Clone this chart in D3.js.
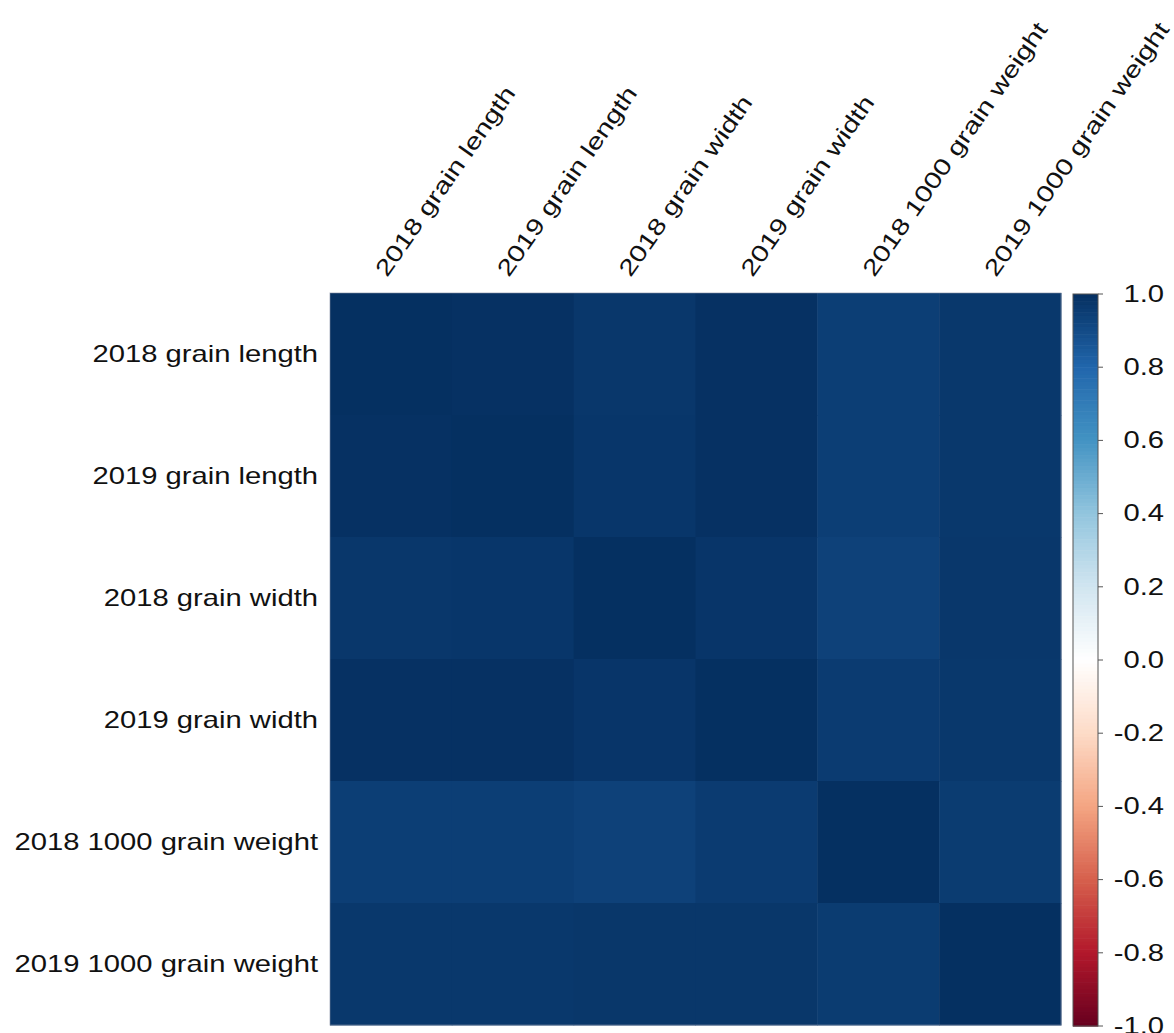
<!DOCTYPE html>
<html>
<head>
<meta charset="utf-8">
<script src="https://cdn.jsdelivr.net/npm/d3@7"></script>
<style>
  html, body { margin: 0; padding: 0; background: #fff; }
  svg text { font-family: "Liberation Sans", Arial, Helvetica, sans-serif; fill: #111; }
</style>
</head>
<body>
<svg id="chart" width="1174" height="1033"></svg>
<script>
// Traits compared in the correlation matrix
const traits = [
  "2018 grain length",
  "2019 grain length",
  "2018 grain width",
  "2019 grain width",
  "2018 1000 grain weight",
  "2019 1000 grain weight"
];

// Pairwise correlation coefficients (row by row)
const row2018Length = [1.00, 0.995, 0.973, 0.995, 0.947, 0.97];
const row2019Length = [0.995, 1.00, 0.976, 0.995, 0.947, 0.97];
const row2018Width  = [0.973, 0.976, 1.00, 0.98, 0.936, 0.973];
const row2019Width  = [0.995, 0.995, 0.98, 1.00, 0.958, 0.97];
const row2018Weight = [0.947, 0.947, 0.936, 0.958, 1.00, 0.957];
const row2019Weight = [0.97, 0.97, 0.975, 0.975, 0.957, 1.00];
const corr = [row2018Length, row2019Length, row2018Width, row2019Width, row2018Weight, row2019Weight];

// Colour bar ticks
const legendTicks = [1.0, 0.8, 0.6, 0.4, 0.2, 0.0, -0.2, -0.4, -0.6, -0.8, -1.0];

// Diverging red-white-blue palette
const paletteStops = ["#67001F", "#B2182B", "#D6604D", "#F4A582", "#FDDBC7", "#FFFFFF",
                      "#D1E5F0", "#92C5DE", "#4393C3", "#2166AC", "#053061"];

const svg = d3.select("#chart");
const gridLeft = 330, gridRight = 1061, gridTop = 293, gridBottom = 1025;
const widen = 1.27;      // wide lettering along the baseline
const fontSize = 23;
const colAngle = -55;

const x = d3.scaleBand().domain(traits).range([gridLeft, gridRight]).padding(0);
const y = d3.scaleBand().domain(traits).range([gridTop, gridBottom]).padding(0);

const color = d3.scaleLinear()
  .domain(d3.range(paletteStops.length).map(i => -1 + 2 * i / (paletteStops.length - 1)))
  .range(paletteStops)
  .interpolate(d3.interpolateRgb);

// Heatmap cells
const cells = [];
corr.forEach((row, i) => row.forEach((v, j) => cells.push({ r: traits[i], c: traits[j], v })));

svg.append("g").selectAll("rect")
  .data(cells)
  .join("rect")
  .attr("x", d => x(d.c))
  .attr("y", d => y(d.r))
  .attr("width", x.bandwidth() + 0.5)
  .attr("height", y.bandwidth() + 0.5)
  .attr("fill", d => color(d.v));

svg.append("rect")
  .attr("x", gridLeft).attr("y", gridTop)
  .attr("width", gridRight - gridLeft).attr("height", gridBottom - gridTop)
  .attr("fill", "none").attr("stroke", "#7f8ba0").attr("stroke-width", 1).attr("stroke-opacity", 0.6);

// Row labels
svg.append("g").selectAll("text")
  .data(traits)
  .join("text")
  .attr("transform", d => `translate(318,${y(d) + y.bandwidth() / 2}) scale(${widen},1)`)
  .attr("text-anchor", "end")
  .attr("dominant-baseline", "central")
  .attr("font-size", fontSize)
  .text(d => d);

// Column labels, rotated
svg.append("g").selectAll("text")
  .data(traits)
  .join("text")
  .attr("transform", d => `translate(${x(d) + x.bandwidth() / 2 - 4},278) rotate(${colAngle}) scale(${widen},1)`)
  .attr("text-anchor", "start")
  .attr("font-size", fontSize)
  .text(d => d);

// Colour bar
const barLeft = 1073, barWidth = 25, barTop = 294, barBottom = 1026;
const legendY = d3.scaleLinear().domain([1, -1]).range([barTop, barBottom]);
const steps = d3.range(200).map(i => 1 - (i + 0.5) * 2 / 200);
const stepH = (barBottom - barTop) / 200;

svg.append("g").selectAll("rect")
  .data(steps)
  .join("rect")
  .attr("x", barLeft)
  .attr("y", d => legendY(d) - stepH / 2)
  .attr("width", barWidth)
  .attr("height", stepH + 0.6)
  .attr("fill", d => color(d));

svg.append("rect")
  .attr("x", barLeft).attr("y", barTop)
  .attr("width", barWidth).attr("height", barBottom - barTop)
  .attr("fill", "none").attr("stroke", "#555").attr("stroke-width", 1);

const legendAxis = svg.append("g");
legendAxis.selectAll("line")
  .data(legendTicks)
  .join("line")
  .attr("x1", barLeft + barWidth).attr("x2", barLeft + barWidth + 5)
  .attr("y1", d => legendY(d)).attr("y2", d => legendY(d))
  .attr("stroke", "#555").attr("stroke-width", 1);

legendAxis.selectAll("text")
  .data(legendTicks)
  .join("text")
  .attr("transform", d => `translate(1164,${legendY(d)}) scale(${widen},1)`)
  .attr("text-anchor", "end")
  .attr("dominant-baseline", "central")
  .attr("font-size", fontSize)
  .text(d => d3.format(".1f")(d).replace("−", "-"));
</script>
</body>
</html>
